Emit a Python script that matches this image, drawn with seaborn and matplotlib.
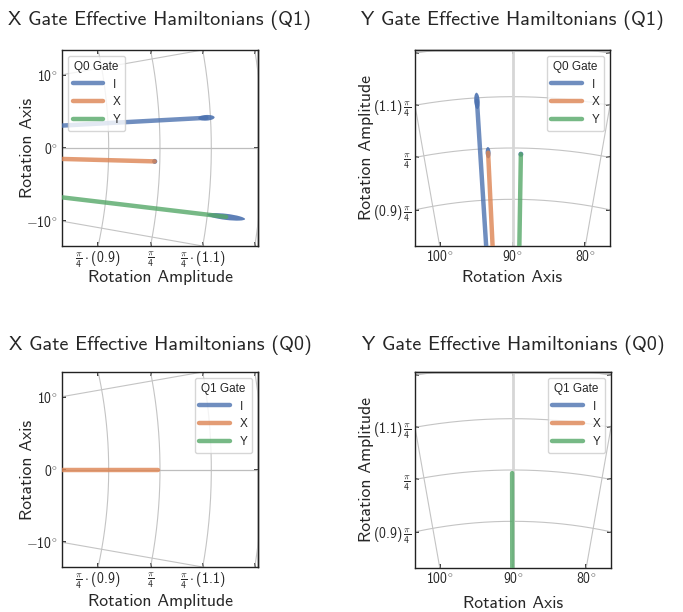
import numpy as np
import pandas as pd
import seaborn as sns
import matplotlib.pyplot as plt
from matplotlib.lines import Line2D
from matplotlib.patches import Ellipse

gates = ['I', 'X', 'Y']

# amplitudes in units of pi/4, rotation axes in degrees
xq1_amp = [1.092, 0.990, 1.137]
xq1_axis = [3.09, -1.51, -6.78]
xq1_amp_err = [0.016, 0.005, 0.037]
xq1_axis_err = [0.29, 0.28, 0.30]

yq1_amp = [1.094, 0.992, 0.988]
yq1_axis = [93.65, 92.76, 89.05]
yq1_amp_err = [0.016, 0.011, 0.005]
yq1_axis_err = [0.28, 0.28, 0.28]

xq0_amp = [np.nan, 0.997, np.nan]
xq0_axis = [np.nan, 0.0, np.nan]

yq0_amp = [np.nan, np.nan, 0.994]
yq0_axis = [np.nan, np.nan, 90.1]

amp_grid = [0.8, 0.9, 1.0, 1.1, 1.2, 1.3]
amp_tick_x = [r'$\frac{\pi}{4}\cdot\mathrm{(0.9)}$', r'$\frac{\pi}{4}$',
              r'$\frac{\pi}{4}\cdot\mathrm{(1.1)}$', '']
amp_tick_y = [r'$\mathrm{(0.9)}\,\frac{\pi}{4}$', r'$\frac{\pi}{4}$',
              r'$\mathrm{(1.1)}\,\frac{\pi}{4}$', '']

Q = np.pi / 4
HALF = 0.15

sns.set_theme(style='ticks', palette='deep',
              rc={'xtick.direction': 'in', 'ytick.direction': 'in',
                  'xtick.major.size': 3, 'ytick.major.size': 3,
                  'xtick.major.pad': 2.5, 'ytick.major.pad': 3,
                  'axes.edgecolor': '#222222', 'axes.linewidth': 1.0})
plt.rcParams['font.family'] = ['cmss10', 'DejaVu Sans']
plt.rcParams['mathtext.fontset'] = 'custom'
plt.rcParams['mathtext.rm'] = 'cmss10'
plt.rcParams['mathtext.sf'] = 'cmss10'
plt.rcParams['mathtext.it'] = 'cmmi10'
plt.rcParams['mathtext.fallback'] = 'cm'
plt.rcParams['axes.unicode_minus'] = False

palette = dict(zip(gates, sns.color_palette('deep')[:3]))


def deg_label(d):
    return r'$\mathrm{%d}^{\circ}$' % d


def ray_frame(amp, axis):
    rows = []
    for g, a, t in zip(gates, amp, axis):
        if np.isnan(a):
            continue
        r = a * Q
        th = np.deg2rad(t)
        rows.append({'gate': g, 'x': 0.0, 'y': 0.0})
        rows.append({'gate': g, 'x': r * np.cos(th), 'y': r * np.sin(th)})
    return pd.DataFrame(rows)


def draw_grid(ax, center, zero_style):
    th = np.deg2rad(np.linspace(center - 40, center + 40, 400))
    for a in amp_grid:
        ax.plot(a * Q * np.cos(th), a * Q * np.sin(th), color='#c4c4c4', lw=0.8, zorder=1)
    rr = np.array([0.0, 1.6])
    for d in np.arange(center - 30, center + 31, 10):
        t = np.deg2rad(d)
        if d == center:
            ax.plot(rr * np.cos(t), rr * np.sin(t), zorder=1, **zero_style)
        else:
            ax.plot(rr * np.cos(t), rr * np.sin(t), color='#c4c4c4', lw=0.8, zorder=1)


def draw_blobs(ax, amp, axis, amp_err, axis_err):
    for a, t, ea, et in zip(amp, axis, amp_err, axis_err):
        r = a * Q
        th = np.deg2rad(t)
        ax.add_patch(Ellipse((r * np.cos(th), r * np.sin(th)), width=2 * ea * Q,
                             height=2 * r * np.deg2rad(et), angle=t,
                             color=palette['I'], alpha=0.9, lw=0, zorder=2))


def draw_rays(ax, amp, axis):
    df = ray_frame(amp, axis)
    sns.lineplot(data=df, x='x', y='y', hue='gate', hue_order=gates, palette=palette,
                 sort=False, estimator=None, lw=3.2, alpha=0.8, legend=False, ax=ax, zorder=3)


def add_legend(ax, title, loc):
    handles = [Line2D([], [], color=palette[g], lw=3.2, alpha=0.8) for g in gates]
    ax.legend(handles, gates, title=title, loc=loc, handlelength=2.6,
              prop={'family': 'Liberation Sans', 'size': 8.5},
              title_fontproperties={'family': 'Liberation Sans', 'size': 8.5})


def x_gate_panel(ax, amp, axis, title, legend_title, pad, xlab_y, amp_err=None, axis_err=None):
    draw_grid(ax, 0, {'color': '#bdbdbd', 'lw': 0.9})
    if amp_err is not None:
        draw_blobs(ax, amp, axis, amp_err, axis_err)
    draw_rays(ax, amp, axis)
    x0, x1 = Q - HALF, Q + HALF
    ax.set_xlim(x0, x1)
    ax.set_ylim(-HALF, HALF)
    ax.set_xticks([np.sqrt((a * Q) ** 2 - HALF ** 2) for a in [0.9, 1.0, 1.1, 1.2]])
    ax.set_xticklabels(amp_tick_x, fontsize=10)
    degs = [10, 0, -10]
    ax.set_yticks([x0 * np.tan(np.deg2rad(d)) for d in degs])
    ax.set_yticklabels([deg_label(d) for d in degs], fontsize=10)
    ax.tick_params(top=True)
    sec = ax.secondary_yaxis('right')
    sec.set_yticks([0])
    sec.set_yticklabels([])
    sec.tick_params(direction='in', length=3)
    ax.set_xlabel('Rotation Amplitude', fontsize=12.7, va='top')
    ax.xaxis.set_label_coords(0.5, xlab_y)
    ax.set_ylabel('Rotation Axis', fontsize=12.7)
    ax.yaxis.set_label_coords(-0.14, 0.5)
    ax.set_title(title, fontsize=14.5, pad=pad)
    add_legend(ax, legend_title, 'upper left' if legend_title == 'Q0 Gate' else 'upper right')


def y_gate_panel(ax, amp, axis, title, legend_title, pad, xlab_y, amp_err=None, axis_err=None):
    draw_grid(ax, 90, {'color': '#d6d6d6', 'lw': 2.0})
    if amp_err is not None:
        draw_blobs(ax, amp, axis, amp_err, axis_err)
    draw_rays(ax, amp, axis)
    y0, y1 = Q - HALF, Q + HALF
    ax.set_xlim(-HALF, HALF)
    ax.set_ylim(y0, y1)
    degs = [100, 90, 80]
    ax.set_xticks([y0 / np.tan(np.deg2rad(d)) for d in degs])
    ax.set_xticklabels([deg_label(d) for d in degs], fontsize=10)
    ax.set_yticks([np.sqrt((a * Q) ** 2 - HALF ** 2) for a in [0.9, 1.0, 1.1, 1.2]])
    ax.set_yticklabels(amp_tick_y, fontsize=10)
    ax.tick_params(right=True)
    sec = ax.secondary_xaxis('top')
    sec.set_xticks([0])
    sec.set_xticklabels([])
    sec.tick_params(direction='in', length=3)
    ax.set_xlabel('Rotation Axis', fontsize=12.7, va='top')
    ax.xaxis.set_label_coords(0.5, xlab_y)
    ax.set_ylabel('Rotation Amplitude', fontsize=12.7)
    ax.yaxis.set_label_coords(-0.21, 0.5)
    ax.set_title(title, fontsize=14.5, pad=pad)
    add_legend(ax, legend_title, 'upper right')


fig = plt.figure(figsize=(6.83, 6.12), dpi=100)
W, H = 683, 612
ax_tl = fig.add_axes([62 / W, 1 - 246 / H, 196 / W, 196 / H])
ax_tr = fig.add_axes([415 / W, 1 - 246 / H, 195 / W, 196 / H])
ax_bl = fig.add_axes([62 / W, 1 - 567 / H, 196 / W, 195 / H])
ax_br = fig.add_axes([415 / W, 1 - 568 / H, 196 / W, 196 / H])

x_gate_panel(ax_tl, xq1_amp, xq1_axis, 'X Gate Effective Hamiltonians (Q1)', 'Q0 Gate', 18, -0.12,
             xq1_amp_err, xq1_axis_err)
y_gate_panel(ax_tr, yq1_amp, yq1_axis, 'Y Gate Effective Hamiltonians (Q1)', 'Q0 Gate', 18, -0.12,
             yq1_amp_err, yq1_axis_err)
x_gate_panel(ax_bl, xq0_amp, xq0_axis, 'X Gate Effective Hamiltonians (Q0)', 'Q1 Gate', 16, -0.14)
y_gate_panel(ax_br, yq0_amp, yq0_axis, 'Y Gate Effective Hamiltonians (Q0)', 'Q1 Gate', 16, -0.145)

fig.savefig('out.png', dpi=100)
